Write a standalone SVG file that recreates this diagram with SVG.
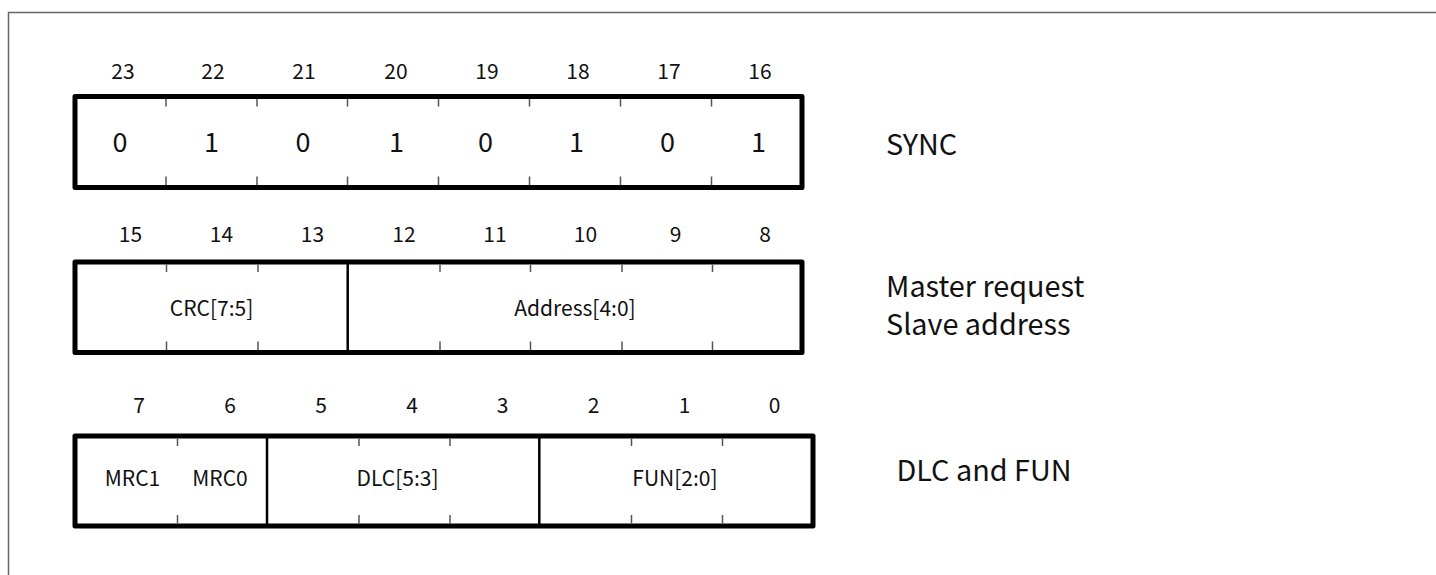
<svg xmlns="http://www.w3.org/2000/svg" width="1436" height="575" viewBox="0 0 1436 575">
<style>
.frame{fill:none;stroke:#666;stroke-width:1.5}
.box{fill:#fff;stroke:#000;stroke-width:5;stroke-linejoin:round}
.div{stroke:#000;stroke-width:2.5}
.tick{stroke:#555;stroke-width:1.5}
text{font-family:"Noto Sans CJK SC","Noto Sans","Liberation Sans",sans-serif;fill:#111}
.bit{font-size:21px;text-anchor:middle}
.val{font-size:27px;text-anchor:middle}
.lbl{font-size:21px;text-anchor:middle}
.name{font-size:28.8px}
</style>
<rect width="1436" height="575" fill="#fff"/>
<path class="frame" d="M8.5 575 V12.5 H1436"/>

<g id="row-sync">
  <rect class="box" x="75" y="96.5" width="727" height="91"/>
  <g class="tick">
    <path d="M166 99v7.5M257 99v7.5M347.5 99v7.5M438.5 99v7.5M529.5 99v7.5M620.5 99v7.5M711.5 99v7.5"/>
    <path d="M166 185v-8.5M257 185v-8.5M347.5 185v-8.5M438.5 185v-8.5M529.5 185v-8.5M620.5 185v-8.5M711.5 185v-8.5"/>
  </g>
  <g class="bit">
    <text x="123" y="78.5">23</text><text x="213" y="78.5">22</text><text x="304" y="78.5">21</text><text x="396" y="78.5">20</text>
    <text x="487" y="78.5">19</text><text x="578" y="78.5">18</text><text x="669" y="78.5">17</text><text x="760" y="78.5">16</text>
  </g>
  <g class="val">
    <text x="120" y="151.5">0</text><text x="211.5" y="151.5">1</text><text x="303" y="151.5">0</text><text x="396.5" y="151.5">1</text>
    <text x="485.5" y="151.5">0</text><text x="576.5" y="151.5">1</text><text x="667.5" y="151.5">0</text><text x="758.5" y="151.5">1</text>
  </g>
  <text class="name" x="886" y="155">SYNC</text>
</g>

<g id="row-address">
  <rect class="box" x="75" y="262" width="727" height="90.5"/>
  <line class="div" x1="347.7" y1="262" x2="347.7" y2="352.5"/>
  <g class="tick">
    <path d="M166.5 264.5v7.5M258 264.5v7.5M440 264.5v7.5M530.5 264.5v7.5M622 264.5v7.5M712.5 264.5v7.5"/>
    <path d="M166.5 350v-8.5M258 350v-8.5M440 350v-8.5M530.5 350v-8.5M622 350v-8.5M712.5 350v-8.5"/>
  </g>
  <g class="bit">
    <text x="130.5" y="241.5">15</text><text x="221.5" y="241.5">14</text><text x="312.5" y="241.5">13</text><text x="404" y="241.5">12</text>
    <text x="495" y="241.5">11</text><text x="585.5" y="241.5">10</text><text x="675.5" y="241.5">9</text><text x="765" y="241.5">8</text>
  </g>
  <text class="lbl" x="211.5" y="316">CRC[7:5]</text>
  <text class="lbl" x="575" y="316">Address[4:0]</text>
  <text class="name" x="886" y="296.5">Master request</text>
  <text class="name" x="886" y="335">Slave address</text>
</g>

<g id="row-dlc">
  <rect class="box" x="75" y="436" width="738" height="90"/>
  <line class="div" x1="267" y1="436" x2="267" y2="526"/>
  <line class="div" x1="539.3" y1="436" x2="539.3" y2="526"/>
  <g class="tick">
    <path d="M177.5 438.5v7.5M359 438.5v7.5M450 438.5v7.5M631.5 438.5v7.5M722.5 438.5v7.5"/>
    <path d="M177.5 523.5v-8.5M359 523.5v-8.5M450 523.5v-8.5M631.5 523.5v-8.5M722.5 523.5v-8.5"/>
  </g>
  <g class="bit">
    <text x="139" y="412.5">7</text><text x="230" y="412.5">6</text><text x="321" y="412.5">5</text><text x="412" y="412.5">4</text>
    <text x="502.5" y="412.5">3</text><text x="593.5" y="412.5">2</text><text x="684.5" y="412.5">1</text><text x="774.5" y="412.5">0</text>
  </g>
  <text class="lbl" x="132.5" y="486">MRC1</text>
  <text class="lbl" x="220" y="486">MRC0</text>
  <text class="lbl" x="397.5" y="486">DLC[5:3]</text>
  <text class="lbl" x="675" y="486">FUN[2:0]</text>
  <text class="name" x="896.5" y="480.5">DLC and FUN</text>
</g>
</svg>
